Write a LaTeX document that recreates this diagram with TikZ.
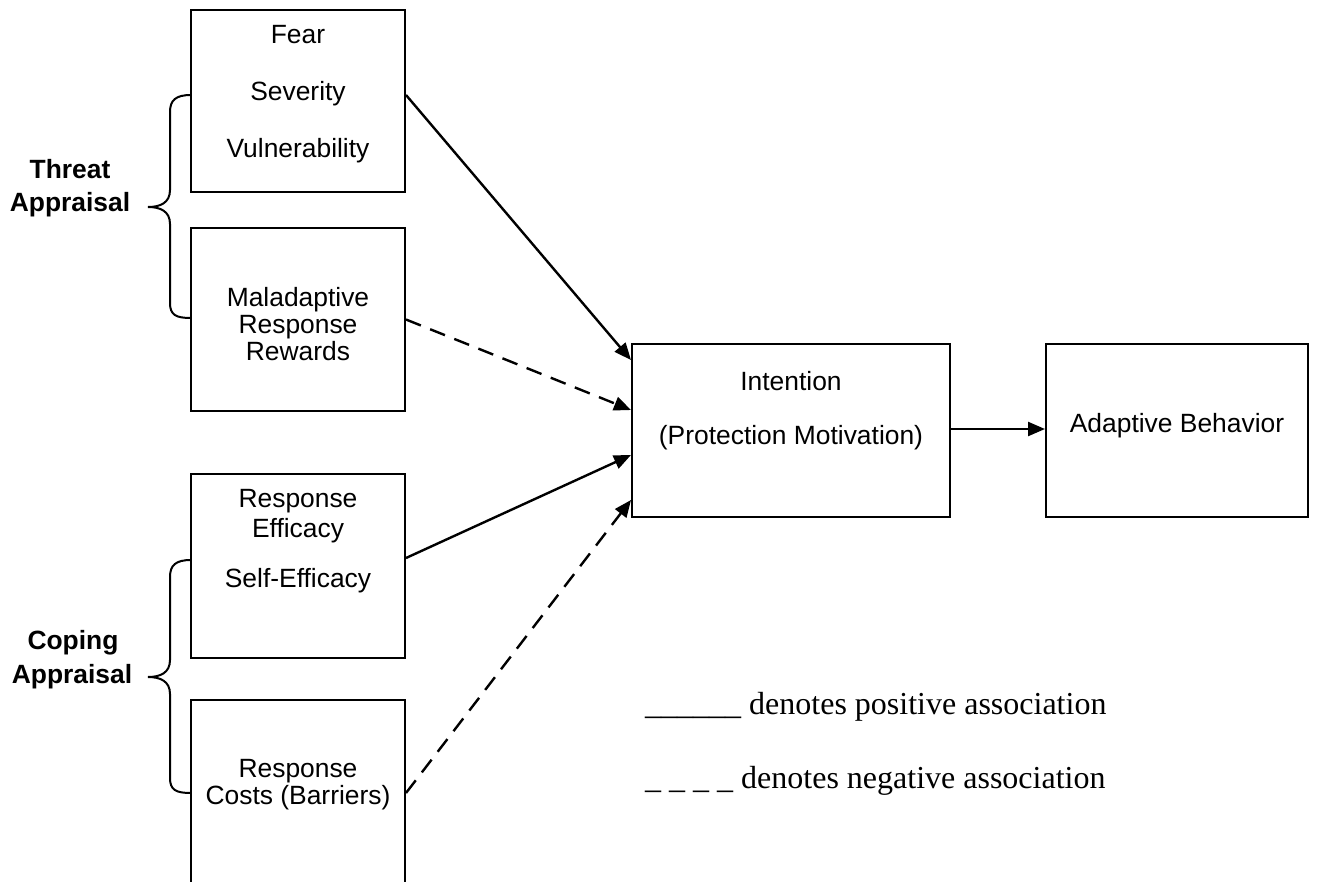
\documentclass[tikz,border=0pt]{standalone}
\usepackage{fontspec}
\setmainfont{Liberation Serif}
\setsansfont{Liberation Sans}
\usetikzlibrary{arrows.meta}
\begin{document}
\begin{tikzpicture}[x=1pt,y=-1pt,
 box/.style={draw, line width=2pt, inner sep=0pt},
 lbl/.style={font=\sffamily\fontsize{26.4}{30}\selectfont, anchor=base, inner sep=0pt},
 hd/.style={font=\sffamily\bfseries\fontsize{26.4}{30}\selectfont, anchor=base, inner sep=0pt},
 leg/.style={font=\rmfamily\fontsize{32}{36}\selectfont, anchor=base west, inner sep=0pt},
 posarrow/.style={line width=2.4pt, -{Triangle[length=17pt,width=14pt]}},
 negarrow/.style={posarrow, dash pattern=on 16pt off 10pt},
 bracepath/.style={line width=2pt}]
\useasboundingbox (0,0) rectangle (1317,881);
\clip (0,0) rectangle (1317,881);
\fill[white] (0,0) rectangle (1317,881);

% boxes
\node[box, minimum width=214pt, minimum height=182pt] (b1) at (298,101) {};
\node[box, minimum width=214pt, minimum height=183pt] (b2) at (298,319.5) {};
\node[box, minimum width=214pt, minimum height=184pt] (b3) at (298,566) {};
\node[box, minimum width=214pt, minimum height=186pt] (b4) at (298,793) {};
\node[box, minimum width=318pt, minimum height=173pt] (int) at (791,430.5) {};
\node[box, minimum width=262pt, minimum height=173pt] (ab) at (1177,430.5) {};

% box texts
\node[lbl] (t1a) at (298,43) {Fear};
\node[lbl] (t1b) at (298,100) {Severity};
\node[lbl] (t1c) at (298,157) {Vulnerability};
\node[lbl] (t2a) at (298,306) {Maladaptive};
\node[lbl] (t2b) at (298,333) {Response};
\node[lbl] (t2c) at (298,360) {Rewards};
\node[lbl] (t3a) at (298,507) {Response};
\node[lbl] (t3b) at (298,537) {Efficacy};
\node[lbl] (t3c) at (298,587) {Self-Efficacy};
\node[lbl] (t4a) at (298,777) {Response};
\node[lbl] (t4b) at (298,804) {Costs (Barriers)};
\node[lbl] (ti1) at (791,390) {Intention};
\node[lbl] (ti2) at (791,444) {(Protection Motivation)};
\node[lbl] (tab) at (1177,432) {Adaptive Behavior};

% headings
\node[hd] (h1a) at (70,178) {Threat};
\node[hd] (h1b) at (70,211) {Appraisal};
\node[hd] (h2a) at (73,649) {Coping};
\node[hd] (h2b) at (72,683) {Appraisal};

% braces
\draw[bracepath] (191,95) .. controls (176,95) and (170,100) .. (170,112) -- (170,190)
  .. controls (170,203) and (160,207) .. (148,207)
  .. controls (160,207) and (170,211) .. (170,224) -- (170,303)
  .. controls (170,315) and (176,318) .. (191,318);
\draw[bracepath] (191,560) .. controls (176,560) and (170,565) .. (170,577) -- (170,660)
  .. controls (170,673) and (160,677) .. (148,677)
  .. controls (160,677) and (170,681) .. (170,694) -- (170,778)
  .. controls (170,790) and (176,793) .. (191,793);

% connectors
\draw[posarrow] ([yshift=6pt]b1.east) -- ([yshift=70.5pt]int.west);
\draw[negarrow] (b2.east) -- ([yshift=20.5pt]int.west);
\draw[posarrow] ([yshift=8pt]b3.east) -- ([yshift=-24.5pt]int.west);
\draw[negarrow] (b4.east) -- ([yshift=-69.5pt]int.west);
\draw[posarrow] ([yshift=1.5pt]int.east) -- ([yshift=1.5pt]ab.west);

% legend
\node[leg] (lp) at (645,714) {\_\_\_\_\_\_ denotes positive association};
\node[leg] (ln) at (645,788) {\_ \_ \_ \_ denotes negative association};
\end{tikzpicture}
\end{document}
